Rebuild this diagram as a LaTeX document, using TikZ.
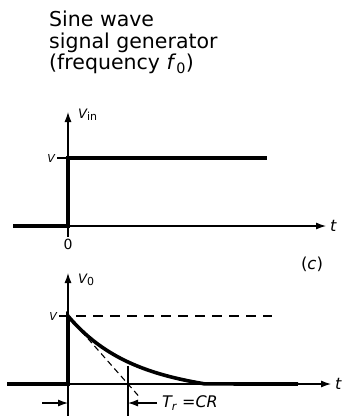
\documentclass[tikz,border=0pt]{standalone}
\usepackage{fontspec}
\setmainfont{DejaVu Sans}
\usetikzlibrary{arrows.meta, positioning, calc}

\begin{document}
\begin{tikzpicture}[x=1pt, y=-1pt, >={Latex[length=10pt,width=7pt]},
  axis/.style={line width=1.1pt},
  trace/.style={line width=3.6pt},
  guide/.style={line width=1.1pt, dash pattern=on 10pt off 7pt},
  lbl/.style={font=\fontsize{13}{15}\selectfont\itshape, inner sep=1pt},
  lvl/.style={font=\fontsize{11}{13}\selectfont\itshape, inner sep=1pt},
  tlbl/.style={font=\fontsize{16}{18}\selectfont\itshape, inner sep=1pt}]
  \useasboundingbox (0,0) rectangle (343,416);

  % title
  \node[anchor=north west, align=left, inner sep=0pt,
        font=\fontsize{20.5}{21.5}\selectfont] (gen) at (49,11)
        {Sine wave\\signal generator\\(frequency \textit{f}\textsubscript{0})};

  % input step
  \coordinate (o1) at (68,226);
  \coordinate (y1top) at (68,112);
  \coordinate (y1bot) at (68,237);
  \coordinate (x1end) at (326,226);
  \coordinate (v1) at (68,158);
  \coordinate (v1tick) at (57,158);
  \coordinate (s1start) at (13,226);
  \coordinate (s1end) at (267,158);

  \draw[axis, ->] (y1bot) -- (y1top);
  \draw[axis, ->] (o1) -- (x1end);
  \draw[axis] (v1tick) -- (v1);
  \draw[trace] (s1start) -- (o1) -- (v1) -- (s1end);

  \node[lbl, anchor=west] (vin) at (77,115)
    {V\raisebox{-0.35ex}{\fontsize{11}{13}\selectfont\upshape in}};
  \node[lvl, left=1pt of v1tick] (vlev1) {V};
  \node[below=12pt of o1, inner sep=1pt, font=\fontsize{14}{16}\selectfont] (zero) {0};
  \node[tlbl, right=3pt of x1end] (t1) {t};

  % output (differentiated)
  \coordinate (o2) at (68,384);
  \coordinate (y2top) at (68,273);
  \coordinate (y2bot) at (68,416);
  \coordinate (x2end) at (331,384);
  \coordinate (v2) at (68,316);
  \coordinate (v2tick) at (59,316);
  \coordinate (d2end) at (272,316);
  \coordinate (s2start) at (7,384);
  \coordinate (s2end) at (298,384);
  \coordinate (tautop) at (128,366);
  \coordinate (taubot) at (128,416);
  \coordinate (tanend) at (140,397.6);

  \draw[axis, ->] (y2bot) -- (y2top);
  \draw[axis, ->] (o2) -- (x2end);
  \draw[guide] (v2tick) -- (d2end);
  \draw[axis, dash pattern=on 6pt off 4pt] (v2) -- (tanend);
  \draw[axis] (tautop) -- (taubot);
  \draw[trace] (s2start) -- (o2) -- (v2)
    -- plot[domain=0:137, samples=70] ({68+\x}, {384-68*exp(-\x/60)+0.05*\x})
    -- (s2end);

  \node[lbl, anchor=west] (vo) at (77,280)
    {V\raisebox{-0.35ex}{\fontsize{11}{13}\selectfont\upshape 0}};
  \node[lvl, left=1pt of v2tick] (vlev2) {V};
  \node[tlbl, right=3pt of x2end] (t2) {t};
  \node[inner sep=1pt, font=\fontsize{16.5}{18}\selectfont] (tag) at (312,264) {(\textit{c})};

  % time constant
  \coordinate (dimL) at (42,403);
  \coordinate (dimO) at (68,403);
  \coordinate (dimT) at (128,403);
  \coordinate (dimR) at (157,403);
  \draw[axis, ->] (dimL) -- (dimO);
  \draw[axis, ->] (dimR) -- (dimT);
  \node[tlbl, right=4pt of dimR] (tr) {T\textsubscript{r} =CR};
\end{tikzpicture}
\end{document}
